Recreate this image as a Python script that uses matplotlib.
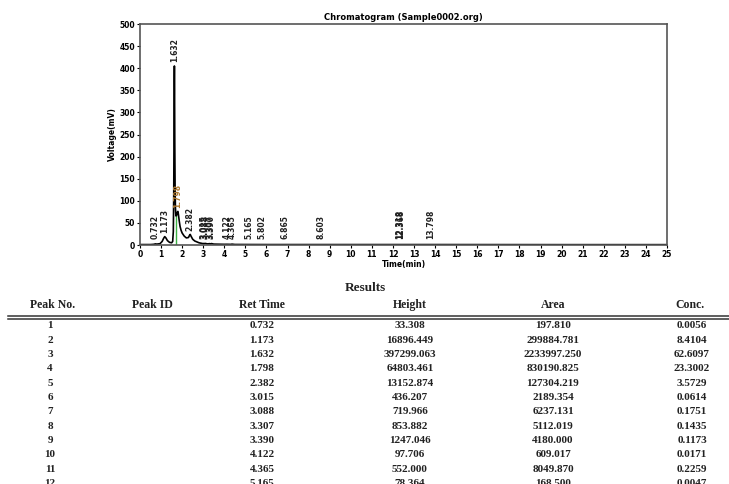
import matplotlib.pyplot as plt
from matplotlib.lines import Line2D

# Chromatogram trace (time in min, signal in mV)
trace_time = [0.0, 0.5, 0.65, 0.732, 0.8, 0.95, 1.05, 1.12, 1.173, 1.23, 1.3, 1.4,
              1.5, 1.55, 1.58, 1.60, 1.615, 1.625, 1.632, 1.64, 1.65, 1.665, 1.68,
              1.70, 1.72, 1.75, 1.78, 1.798, 1.82, 1.86, 1.9, 1.95, 2.0, 2.1, 2.2,
              2.3, 2.35, 2.382, 2.42, 2.5, 2.6, 2.8, 3.0, 3.015, 3.05, 3.088, 3.2,
              3.307, 3.35, 3.39, 3.5, 4.0, 4.122, 4.3, 4.365, 4.5, 5.165, 6.0, 8.0,
              10.0, 12.0, 14.0, 20.0, 25.0]
trace_signal = [1, 1, 1.5, 2.5, 2, 3, 8, 15, 19, 16, 10, 6,
                5, 8, 30, 110, 260, 370, 405, 350, 230, 130, 85,
                68, 65, 70, 75, 76, 70, 55, 42, 33, 27, 20, 16,
                17, 22, 24, 20, 13, 9, 5, 3, 3.4, 3, 3.6, 2.5,
                3, 2.5, 3.2, 2, 1.5, 1.6, 1.4, 1.9, 1.2, 1.1, 1, 1,
                1, 1, 1, 0.8, 0.8]

# Peak labels drawn on the chromatogram
label_times = [0.732, 1.173, 1.632, 1.798, 2.382, 3.015, 3.088, 3.307, 3.390,
               4.122, 4.365, 5.165, 5.802, 6.865, 8.603, 12.318, 12.368, 13.798]
label_tops = [2.5, 19, 405, 76, 24, 3.4, 3.6, 3, 3.2, 1.6, 1.9, 1.1, 1, 1, 1, 1, 1, 1]

# Results table
peak_no = ["1", "2", "3", "4", "5", "6", "7", "8", "9", "10", "11", "12"]
ret_time = ["0.732", "1.173", "1.632", "1.798", "2.382", "3.015", "3.088", "3.307",
            "3.390", "4.122", "4.365", "5.165"]
height = ["33.308", "16896.449", "397299.063", "64803.461", "13152.874", "436.207",
          "719.966", "853.882", "1247.046", "97.706", "552.000", "78.364"]
area = ["197.810", "299884.781", "2233997.250", "830190.825", "127304.219", "2189.354",
        "6237.131", "5112.019", "4180.000", "609.017", "8049.870", "168.500"]
conc = ["0.0056", "8.4104", "62.6097", "23.3002", "3.5729", "0.0614", "0.1751",
        "0.1435", "0.1173", "0.0171", "0.2259", "0.0047"]

W, H = 729, 484
fig = plt.figure(figsize=(W / 100, H / 100), dpi=100)


def fx(x):
    return x / W


def fy(y):
    return 1 - y / H


ax = fig.add_axes([fx(140), fy(245), fx(667) - fx(140), fy(24) - fy(245)])
ax.plot(trace_time, trace_signal, color='black', linewidth=1.2)
ax.vlines(1.72, 0, 66, color='#3cb043', linewidth=1.0)

for t, top in zip(label_times, label_tops):
    col = '#b07a30' if t == 1.798 else '#222222'
    ax.text(t, max(top + 8, 14), f"{t:.3f}", rotation=90, fontsize=5.5,
            fontweight='bold', color=col, ha='center', va='bottom')

ax.set_xlim(0, 25)
ax.set_ylim(0, 500)
ax.set_xticks(range(0, 26))
ax.set_yticks(range(0, 501, 50))
ax.tick_params(labelsize=5.5, length=2, width=0.8, pad=1.5)
for lab in ax.get_xticklabels() + ax.get_yticklabels():
    lab.set_fontweight('bold')
for s in ax.spines.values():
    s.set_color('#555555')
    s.set_linewidth(1.2)
ax.set_xlabel("Time(min)", fontsize=5.5, fontweight='bold', labelpad=1)
ax.set_ylabel("Voltage(mV)", fontsize=5.5, fontweight='bold', labelpad=2)
ax.set_title("Chromatogram (Sample0002.org)", fontsize=6, fontweight='bold', pad=3)

# Results table
serif = dict(family='Liberation Serif', fontweight='bold', color='#222222')
fig.text(fx(365), fy(288), "Results", fontsize=9.5, ha='center', va='center', **serif)

col_x = [53, 152, 262, 410, 553, 690]
headers = ["Peak No.", "Peak ID", "Ret Time", "Height", "Area", "Conc."]
for x, h in zip(col_x, headers):
    fig.text(fx(x), fy(305), h, fontsize=8.5, ha='center', va='center', **serif)

for yl in (316, 318.5):
    fig.add_artist(Line2D([fx(8), 1.0], [fy(yl), fy(yl)], color='#333333',
                          linewidth=1.1, transform=fig.transFigure))

for i in range(len(peak_no)):
    y = 326 + i * 14.3
    row = [peak_no[i], ret_time[i], height[i], area[i], conc[i]]
    for x, v in zip([50, 262, 410, 553, 692], row):
        fig.text(fx(x), fy(y), v, fontsize=8, ha='center', va='center', **serif)

plt.savefig("out.png", dpi=100)
